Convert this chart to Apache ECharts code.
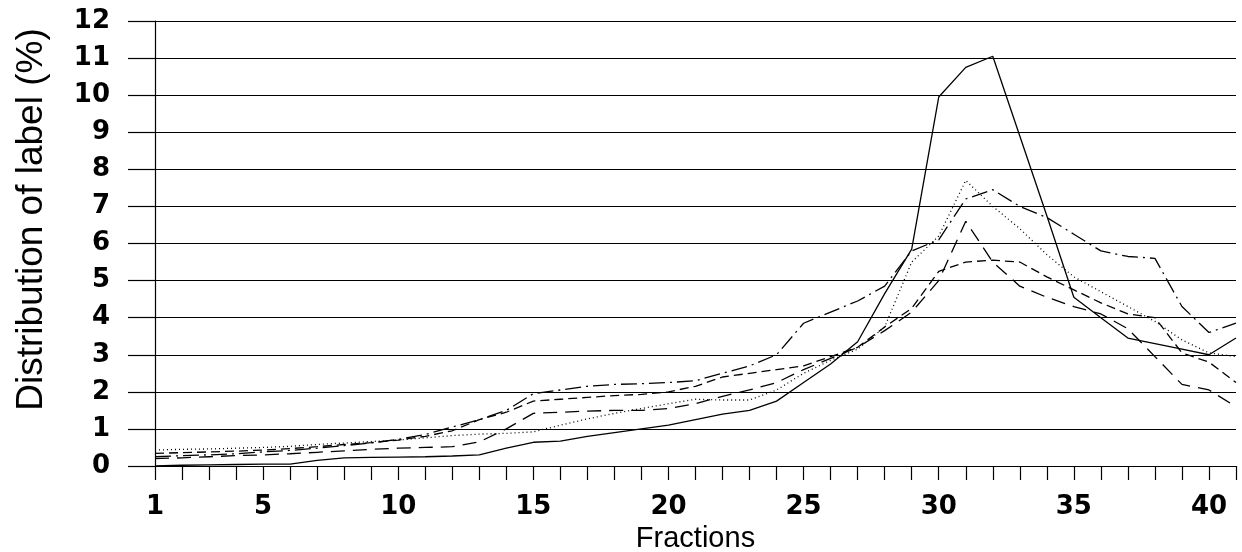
<!DOCTYPE html>
<html>
<head>
<meta charset="utf-8">
<script src="https://cdn.jsdelivr.net/npm/echarts@6/dist/echarts.min.js"></script>
<style>
  html, body { margin: 0; padding: 0; background: #fff; }
  #chart { width: 1242px; height: 552px; }
</style>
</head>
<body>
<div id="chart"></div>
<script>
// fractions 1..41
var fractions = ['1','2','3','4','5','6','7','8','9','10','11','12','13','14','15','16','17','18','19','20',
  '21','22','23','24','25','26','27','28','29','30','31','32','33','34','35','36','37','38','39','40','41'];

var solidLine = [0.0, 0.02, 0.03, 0.04, 0.05, 0.05, 0.15, 0.22, 0.23, 0.24,
  0.25, 0.27, 0.3, 0.48, 0.64, 0.67, 0.8, 0.9, 1.0, 1.1,
  1.25, 1.4, 1.5, 1.75, 2.25, 2.75, 3.35, 4.65, 5.85, 9.95,
  10.75, 11.05, 8.9, 6.75, 4.55, 4.0, 3.45, 3.3, 3.15, 3.0, 3.45];

var dottedLine = [0.43, 0.45, 0.46, 0.48, 0.5, 0.53, 0.58, 0.62, 0.66, 0.7,
  0.76, 0.82, 0.86, 0.88, 0.92, 1.1, 1.27, 1.42, 1.55, 1.68,
  1.8, 1.78, 1.78, 2.05, 2.5, 2.85, 3.15, 3.75, 5.5, 6.2,
  7.7, 7.0, 6.4, 5.7, 5.1, 4.7, 4.3, 3.9, 3.4, 3.05, 2.95];

var dashDotLine = [0.25, 0.28, 0.3, 0.33, 0.38, 0.42, 0.48, 0.55, 0.62, 0.72,
  0.85, 1.05, 1.25, 1.5, 1.95, 2.05, 2.15, 2.2, 2.22, 2.25,
  2.3, 2.5, 2.7, 3.0, 3.85, 4.15, 4.45, 4.85, 5.8, 6.1,
  7.2, 7.45, 7.0, 6.7, 6.25, 5.8, 5.65, 5.6, 4.3, 3.6, 3.85];

var longDashLine = [0.2, 0.22, 0.25, 0.28, 0.3, 0.33, 0.37, 0.41, 0.45, 0.48,
  0.5, 0.52, 0.65, 1.0, 1.42, 1.45, 1.48, 1.5, 1.5, 1.55,
  1.68, 1.88, 2.05, 2.25, 2.6, 2.9, 3.2, 3.65, 4.15, 5.0,
  6.6, 5.5, 4.85, 4.55, 4.3, 4.1, 3.7, 2.95, 2.2, 2.05, 1.6];

var dashLine = [0.34, 0.36, 0.38, 0.4, 0.43, 0.47, 0.52, 0.58, 0.63, 0.7,
  0.8, 0.95, 1.25, 1.45, 1.75, 1.8, 1.85, 1.9, 1.93, 2.0,
  2.15, 2.4, 2.5, 2.6, 2.7, 2.95, 3.2, 3.75, 4.25, 5.25,
  5.5, 5.55, 5.5, 5.1, 4.75, 4.4, 4.1, 4.0, 3.05, 2.8, 2.25];

var dom = document.getElementById('chart');
var myChart = echarts.init(dom, null, { renderer: 'canvas' });

function lineSeries(data, dash) {
  return {
    type: 'line',
    data: data,
    symbol: 'none',
    silent: true,
    lineStyle: { color: '#000', width: 1.3, type: dash }
  };
}

var option = {
  animation: false,
  backgroundColor: '#fff',
  grid: { left: 155, right: 6, top: 21, bottom: 86, outerBoundsMode: 'none', containLabel: false },
  xAxis: {
    type: 'category',
    data: fractions,
    boundaryGap: false,
    name: 'Fractions',
    nameLocation: 'middle',
    nameGap: 54,
    nameTextStyle: { fontFamily: 'Liberation Sans', fontSize: 29, color: '#000' },
    axisLine: { lineStyle: { color: '#000', width: 1.2 } },
    axisTick: { interval: 0, length: 14, lineStyle: { color: '#000', width: 1.2 } },
    axisLabel: {
      interval: function (index) { return index === 0 || (index + 1) % 5 === 0; },
      margin: 28,
      fontFamily: 'DejaVu Sans',
      fontWeight: 'bold',
      fontSize: 26,
      color: '#000'
    },
    splitLine: { show: false }
  },
  yAxis: {
    type: 'value',
    min: 0,
    max: 12,
    interval: 1,
    name: 'Distribution of label (%)',
    nameLocation: 'middle',
    nameGap: 105,
    nameTextStyle: {
      fontFamily: 'Liberation Sans',
      fontSize: 37,
      color: '#000',
      padding: [0, 0, 0, 48]
    },
    axisLine: { show: true, lineStyle: { color: '#000', width: 1.2 } },
    axisTick: { show: true, length: 27, lineStyle: { color: '#000', width: 1.2 } },
    axisLabel: {
      margin: 45,
      fontFamily: 'DejaVu Sans',
      fontWeight: 'bold',
      fontSize: 26,
      color: '#000'
    },
    splitLine: { show: true, lineStyle: { color: '#000', width: 1.2 } }
  },
  series: [
    lineSeries(solidLine, 'solid'),
    lineSeries(dottedLine, [1, 3]),
    lineSeries(dashDotLine, [16, 5, 2, 5]),
    lineSeries(longDashLine, [14, 8]),
    lineSeries(dashLine, [9, 5])
  ]
};

myChart.setOption(option);

window.addEventListener('resize', function () {
  myChart.resize();
});
</script>
</body>
</html>
